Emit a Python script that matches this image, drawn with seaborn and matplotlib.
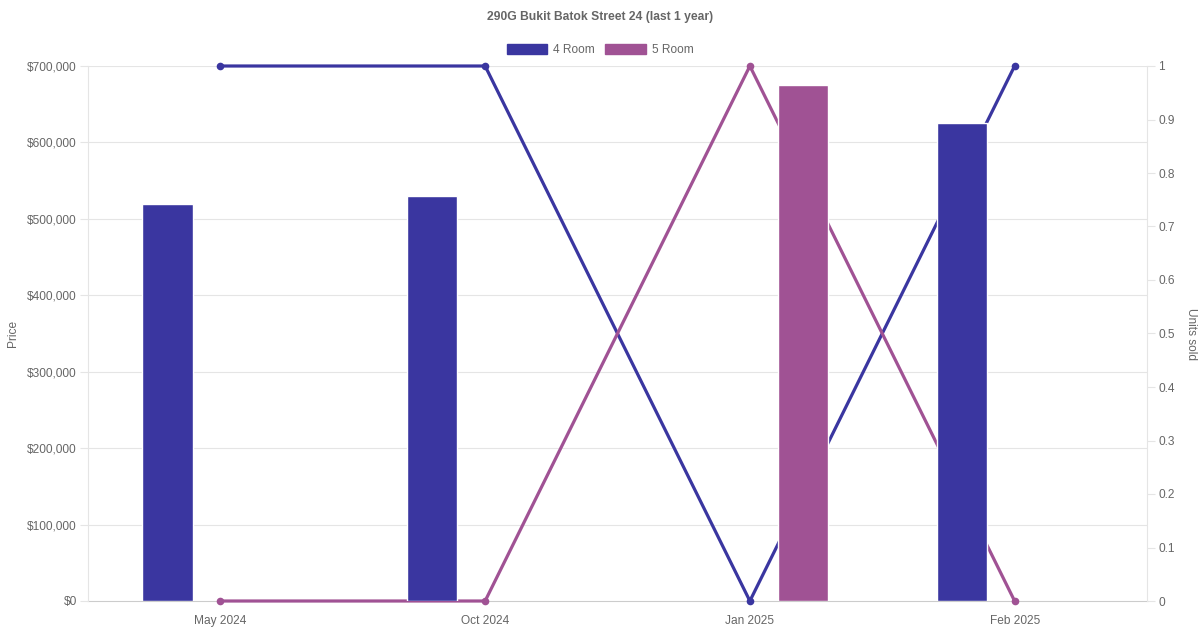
import numpy as np
import pandas as pd
import matplotlib
matplotlib.use("Agg")
import matplotlib.pyplot as plt
from matplotlib.patches import Patch
from matplotlib.ticker import FuncFormatter, MultipleLocator
import seaborn as sns

months = ["May 2024", "Oct 2024", "Jan 2025", "Feb 2025"]
room_types = ["4 Room", "5 Room"]
price_4room = [520000, 530000, np.nan, 625000]
price_5room = [np.nan, np.nan, 675000, np.nan]
units_4room = [1, 1, 0, 1]
units_5room = [0, 0, 1, 0]

colors = {"4 Room": "#3a36a0", "5 Room": "#a05294"}
text_grey = "#666666"
grid_grey = "#e5e5e5"

sns.set_style("white")
plt.rcParams["font.family"] = ["Liberation Sans", "DejaVu Sans"]

prices = pd.DataFrame({
    "month": months * 2,
    "type": ["4 Room"] * 4 + ["5 Room"] * 4,
    "price": price_4room + price_5room,
})
units = pd.DataFrame({
    "pos": list(range(len(months))) * 2,
    "type": ["4 Room"] * 4 + ["5 Room"] * 4,
    "units": units_4room + units_5room,
})

fig = plt.figure(figsize=(12, 6.3), dpi=100)
ax = fig.add_axes([88 / 1200, 1 - 601 / 630, (1147 - 88) / 1200, (601 - 66) / 630])
ax2 = ax.twinx()

# lines sit behind the bars, so the twin axis goes underneath
ax.set_zorder(2)
ax2.set_zorder(1)
ax.patch.set_visible(False)

sns.barplot(data=prices, x="month", y="price", hue="type", order=months,
            hue_order=room_types, palette=colors, ax=ax, width=0.8, gap=0.525,
            saturation=1, legend=False, err_kws={"linewidth": 0})

ax.set_xlim(-0.5, len(months) - 0.5)
ax.set_ylim(0, 700000)
ax2.set_ylim(0, 1)
ax.yaxis.set_major_locator(MultipleLocator(100000))
ax.yaxis.set_major_formatter(FuncFormatter(lambda v, p: f"${v:,.0f}"))
ax2.yaxis.set_major_locator(MultipleLocator(0.1))
ax2.yaxis.set_major_formatter(FuncFormatter(lambda v, p: f"{v:g}" if v else "0"))

# price gridlines drawn on the lower axis so the unit lines stay on top of them
for t in ax.get_yticks():
    if 0 < t <= 700000:
        ax2.axhline(t / 700000, color=grid_grey, linewidth=0.8, zorder=0)

sns.lineplot(data=units, x="pos", y="units", hue="type", hue_order=room_types,
             palette=colors, ax=ax2, linewidth=2.3, marker="o", markersize=5.5,
             markeredgewidth=0, legend=False, zorder=3)
for ln in ax2.lines[-2:]:
    ln.set_clip_on(False)

for a in (ax, ax2):
    for s in a.spines.values():
        s.set_visible(False)
ax2.spines["bottom"].set_visible(True)
ax2.spines["bottom"].set_color("#cccccc")
ax2.spines["bottom"].set_zorder(1)
ax2.spines["left"].set_visible(True)
ax2.spines["left"].set_color(grid_grey)
ax2.spines["right"].set_visible(True)
ax2.spines["right"].set_color(grid_grey)

ax.tick_params(axis="y", length=6, color=grid_grey, labelsize=8.6, labelcolor=text_grey, pad=2)
ax.tick_params(axis="x", length=0, labelsize=8.6, labelcolor=text_grey, pad=10)
ax2.tick_params(axis="y", length=6, color=grid_grey, labelsize=8.6, labelcolor=text_grey, pad=2)

ax.set_xlabel("")
ax.set_ylabel("Price", fontsize=8.6, color=text_grey, labelpad=6)
ax2.set_ylabel("Units sold", fontsize=8.6, color=text_grey, rotation=-90, labelpad=16)

fig.text(0.5, 1 - 17 / 630, "290G Bukit Batok Street 24 (last 1 year)", ha="center",
         va="center", fontsize=8.7, fontweight="bold", color=text_grey)

handles = [Patch(facecolor=colors[t], edgecolor=colors[t], label=t) for t in room_types]
fig.legend(handles=handles, loc="center", bbox_to_anchor=(0.5, 1 - 50 / 630), ncol=2,
           frameon=False, fontsize=8.6, labelcolor=text_grey, handlelength=3.4,
           handleheight=0.9, columnspacing=0.85, handletextpad=0.5)

fig.savefig("out.png", dpi=100)
